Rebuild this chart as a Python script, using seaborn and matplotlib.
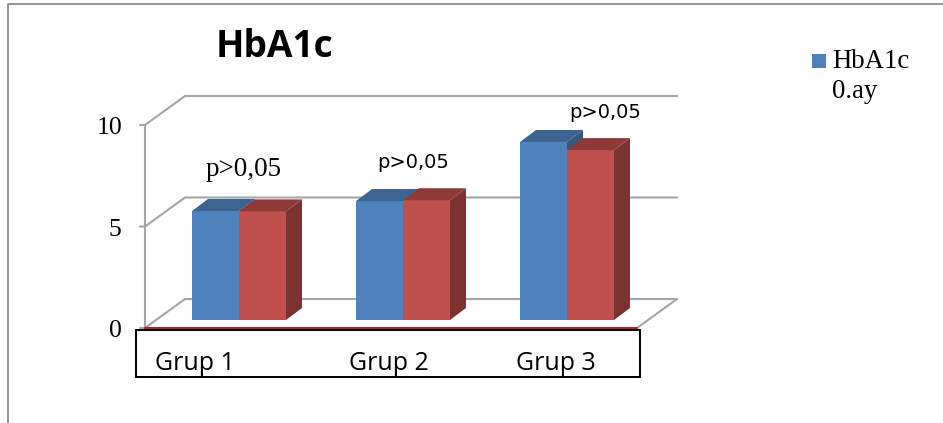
import matplotlib
matplotlib.use("Agg")
import matplotlib.pyplot as plt
from matplotlib.patches import Polygon, Rectangle
import pandas as pd
import seaborn as sns

groups = ["Grup 1", "Grup 2", "Grup 3"]
series_names = ["HbA1c 0.ay", "HbA1c 3.ay"]
baseline_values = [5.37, 5.86, 8.77]
followup_values = [5.35, 5.90, 8.37]
y_ticks = [0, 5, 10]
p_labels = ["p>0,05", "p>0,05", "p>0,05"]

W, H = 943, 423
GRAY = "#a6a6a6"
FACE = ["#4f81bd", "#c0504d"]
TOP = ["#3d6390", "#8e3a38"]
SIDE = ["#38597f", "#7c3230"]

df = pd.DataFrame({
    "group": groups * 2,
    "series": [series_names[0]] * 3 + [series_names[1]] * 3,
    "value": baseline_values + followup_values,
})

sns.set_theme(style="white")
fig = plt.figure(figsize=(W / 100, H / 100), dpi=100, facecolor="white")

# Overlay in pixel coordinates for the frame and the 3D walls
deco = fig.add_axes([0, 0, 1, 1], zorder=0)
deco.set_xlim(0, W)
deco.set_ylim(H, 0)
deco.axis("off")

deco.plot([8, 8, W], [H, 4, 4], color="#8c8c8c", lw=1.3)
DEPTH_X, DEPTH_Y = 40, 29
for v in y_ticks:
    y = 328 - v * 20.3
    deco.plot([140, 145, 145 + DEPTH_X, 677], [y, y, y - DEPTH_Y, y - DEPTH_Y], color=GRAY, lw=1.5)
    deco.text(110 if v == 10 else 115, y + 3, str(v), family="Liberation Serif", fontsize=18.5,
              ha="center", va="center", color="black")
deco.plot([145, 145], [125, 328], color=GRAY, lw=1.5)
deco.plot([637, 677], [328, 299], color=GRAY, lw=1.5)

# Box below the floor holding the category names
deco.add_patch(Rectangle((135.5, 330), 504.5, 47, fc="white", ec="black", lw=1.4, zorder=3))
deco.plot([145, 637], [328.5, 328.5], color="#a8232a", lw=1.5, zorder=4)
for label, x in zip(groups, [195, 389, 556]):
    deco.text(x, 363, label, family="Open Sans", fontsize=18, ha="center", va="center",
              color="black", zorder=5)

deco.text(274, 47, "HbA1c", family="Open Sans", fontweight="bold", fontsize=26.7,
          ha="center", va="center", color="black")

# Legend entry for the first series only
deco.add_patch(Rectangle((812, 54), 14, 14, fc=FACE[0], ec="none"))
deco.text(832, 62, "HbA1c", family="Liberation Serif", fontsize=19.3, ha="left", va="center", color="black")
deco.text(832, 91, "0.ay", family="Liberation Serif", fontsize=19.3, ha="left", va="center", color="black")

# Bars, on axes scaled so a unit is 164 px across and 20.3 px up
PX_X, PX_Y = 164.0, 20.3
ax = fig.add_axes([0, 0, 1, 1], zorder=1)
ax.patch.set_alpha(0)
sns.barplot(data=df, x="group", y="value", hue="series", order=groups,
            hue_order=series_names, palette=FACE, saturation=1, width=0.573, gap=0,
            legend=False, ax=ax)
ax.set_xlim(-239 / PX_X, (W - 239) / PX_X)
ax.set_ylim(-(H - 320) / PX_Y, 320 / PX_Y)
ax.axis("off")

dx, dy = 16 / PX_X, 12 / PX_Y
for s, container in enumerate(ax.containers):
    for bar in container:
        bar.set_zorder(3 + s * 2)
        bar.set_linewidth(0)
        x0, x1 = bar.get_x(), bar.get_x() + bar.get_width()
        h = bar.get_height()
        ax.add_patch(Polygon([(x0, h), (x1, h), (x1 + dx, h + dy), (x0 + dx, h + dy)],
                             fc=TOP[s], ec="none", zorder=3 + s * 2))
        ax.add_patch(Polygon([(x1, 0), (x1 + dx, dy), (x1 + dx, h + dy), (x1, h)],
                             fc=SIDE[s], ec="none", zorder=2 + s * 2))

# Significance notes above each group
note = dict(transform=deco.transData, ha="center", va="center", color="black", zorder=8)
ax.text(244, 170, p_labels[0], family="Liberation Serif", fontsize=19.5, **note)
ax.text(413, 163, p_labels[1], family="DejaVu Sans", fontsize=14, **note)
ax.text(605, 112, p_labels[2], family="DejaVu Sans", fontsize=14, **note)

fig.savefig("out.png", dpi=100, facecolor="white")
